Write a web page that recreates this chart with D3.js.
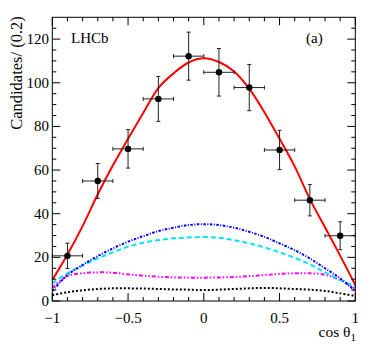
<!DOCTYPE html>
<html>
<head>
<meta charset="utf-8">
<script src="https://cdn.jsdelivr.net/npm/d3@7"></script>
<style>
body { margin: 0; background: #fff; }
text { font-family: "Liberation Serif", "Times New Roman", serif; fill: #000; }
</style>
</head>
<body>
<svg width="374" height="359"></svg>
<script>
// data points (bin centres, counts, errors)
let binX = [-0.9, -0.7, -0.5, -0.3, -0.1, 0.1, 0.3, 0.5, 0.7, 0.9];
let counts = [20.7, 55.0, 69.7, 92.6, 112.2, 104.8, 97.8, 69.2, 46.2, 29.9];
let errs = [5.8, 8.0, 8.8, 10.3, 11.0, 10.9, 10.6, 9.0, 7.2, 6.4];
let binHalf = 0.1;

// fit curves sampled at cos = -1, -0.9, ..., 1
let curveX = d3.range(21).map((i) => -1 + i * 0.1);
let total = [9.6, 21.3, 34.3, 48.9, 62.2, 74.3, 86.1, 97.6, 104.3, 109.3, 111.2, 109.5, 105.2, 97.3, 86.5, 74.3, 61.7, 46.7, 33.8, 20.8, 7.3];
let compBlue = [4.6, 11.9, 16.5, 20.6, 24.1, 27.2, 29.7, 32.0, 33.6, 34.8, 35.2, 34.8, 33.6, 31.7, 29.4, 26.4, 23.3, 19.5, 15.0, 10.4, 4.5];
let compCyan = [8.1, 12.7, 16.3, 19.5, 22.3, 24.9, 26.7, 27.9, 28.7, 29.1, 29.3, 29.0, 27.9, 26.4, 24.6, 22.3, 19.8, 16.8, 13.1, 9.6, 6.6];
let compMagenta = [6.1, 11.4, 12.7, 13.1, 13.0, 12.2, 11.6, 11.1, 10.8, 10.7, 10.7, 10.8, 11.0, 11.4, 11.9, 12.4, 12.7, 12.7, 12.0, 9.6, 5.5];
let compBlack = [2.7, 4.0, 4.9, 5.5, 5.8, 5.8, 5.7, 5.5, 5.3, 5.2, 5.0, 5.2, 5.5, 5.8, 6.0, 5.8, 5.5, 5.2, 4.6, 3.5, 2.3];

let xTicks = [-1, -0.5, 0, 0.5, 1];
let xTickLabels = ["\u22121", "\u22120.5", "0", "0.5", "1"];
let yTicks = [0, 20, 40, 60, 80, 100, 120];

let svg = d3.select("svg");
let fLeft = 52.3, fRight = 355.3, fTop = 17.3, fBottom = 301;

let x = d3.scaleLinear().domain([-1, 1]).range([fLeft, fRight]);
let y = d3.scaleLinear().domain([0, 130]).range([fBottom, fTop]);

// curves, clipped to the frame
svg.append("clipPath").attr("id", "clip")
    .append("rect").attr("x", fLeft).attr("y", fTop).attr("width", fRight - fLeft).attr("height", fBottom - fTop);

let line = d3.line()
    .x((d) => x(d[0]))
    .y((d) => y(d[1]))
    .curve(d3.curveCatmullRom);

let curves = [
    { vals: compBlack, color: "#000000", dash: "2,2" },
    { vals: compMagenta, color: "#ff00ff", dash: "4,2,1.5,2,1.5,2" },
    { vals: compCyan, color: "#00e5ff", dash: "5,3" },
    { vals: compBlue, color: "#0000ff", dash: "2.5,1.5,1,1.5" },
    { vals: total, color: "#ff0000", dash: null }
];

let gCurves = svg.append("g").attr("clip-path", "url(#clip)");
curves.forEach((c) => {
    gCurves.append("path")
        .datum(curveX.map((cx, i) => [cx, c.vals[i]]))
        .attr("d", line)
        .attr("fill", "none")
        .attr("stroke", c.color)
        .attr("stroke-width", 2)
        .attr("stroke-dasharray", c.dash);
});

// data points with error bars
let pts = binX.map((bx, i) => ({ x: bx, y: counts[i], e: errs[i] }));
let gPts = svg.append("g").attr("stroke", "#222").attr("stroke-width", 1);
let cap = 2;

pts.forEach((d) => {
    gPts.append("line")
        .attr("x1", x(d.x - binHalf)).attr("x2", x(d.x + binHalf))
        .attr("y1", y(d.y)).attr("y2", y(d.y));
    gPts.append("line")
        .attr("x1", x(d.x)).attr("x2", x(d.x))
        .attr("y1", y(d.y - d.e)).attr("y2", y(d.y + d.e));
    [d.y - d.e, d.y + d.e].forEach((v) => {
        gPts.append("line")
            .attr("x1", x(d.x) - cap).attr("x2", x(d.x) + cap)
            .attr("y1", y(v)).attr("y2", y(v));
    });
    [d.x - binHalf, d.x + binHalf].forEach((v) => {
        gPts.append("line")
            .attr("x1", x(v)).attr("x2", x(v))
            .attr("y1", y(d.y) - cap).attr("y2", y(d.y) + cap);
    });
});

svg.append("g").selectAll("circle")
    .data(pts)
    .enter()
    .append("circle")
    .attr("cx", (d) => x(d.x))
    .attr("cy", (d) => y(d.y))
    .attr("r", 3.2)
    .attr("fill", "#000");

// frame and ticks
svg.append("rect")
    .attr("x", fLeft).attr("y", fTop)
    .attr("width", fRight - fLeft).attr("height", fBottom - fTop)
    .attr("fill", "none").attr("stroke", "#000").attr("stroke-width", 1);

let gTicks = svg.append("g").attr("stroke", "#000").attr("stroke-width", 1);
let xMinor = d3.range(21).map((i) => -1 + i * 0.1);
xMinor.forEach((v, i) => {
    let len = i % 5 === 0 ? 8 : 4;
    gTicks.append("line").attr("x1", x(v)).attr("x2", x(v)).attr("y1", fBottom).attr("y2", fBottom - len);
    gTicks.append("line").attr("x1", x(v)).attr("x2", x(v)).attr("y1", fTop).attr("y2", fTop + len);
});
let yMinor = d3.range(0, 130, 5);
yMinor.forEach((v) => {
    let len = v % 20 === 0 ? 8 : 4;
    gTicks.append("line").attr("x1", fLeft).attr("x2", fLeft + len).attr("y1", y(v)).attr("y2", y(v));
    gTicks.append("line").attr("x1", fRight).attr("x2", fRight - len).attr("y1", y(v)).attr("y2", y(v));
});

// tick labels
svg.append("g").selectAll("text")
    .data(xTicks)
    .enter()
    .append("text")
    .attr("x", (d) => x(d))
    .attr("y", 323)
    .attr("text-anchor", "middle")
    .attr("font-size", 15)
    .text((d, i) => xTickLabels[i]);

svg.append("g").selectAll("text")
    .data(yTicks)
    .enter()
    .append("text")
    .attr("x", 49)
    .attr("y", (d) => y(d) + 5)
    .attr("text-anchor", "end")
    .attr("font-size", 15)
    .text((d) => d);

// axis titles
let xt = svg.append("text")
    .attr("x", 356)
    .attr("y", 337)
    .attr("text-anchor", "end")
    .attr("font-size", 15.5);
xt.append("tspan").text("cos \u03b8");
xt.append("tspan").attr("font-size", 11).attr("dy", 4).text("1");

svg.append("text")
    .attr("transform", "translate(22," + 73 + ") rotate(-90)")
    .attr("text-anchor", "middle")
    .attr("font-size", 16.5)
    .text("Candidates/ (0.2)");

svg.append("text")
    .attr("x", 71)
    .attr("y", 43)
    .attr("font-size", 15)
    .text("LHCb");

svg.append("text")
    .attr("x", 306)
    .attr("y", 43)
    .attr("font-size", 15)
    .text("(a)");
</script>
</body>
</html>
